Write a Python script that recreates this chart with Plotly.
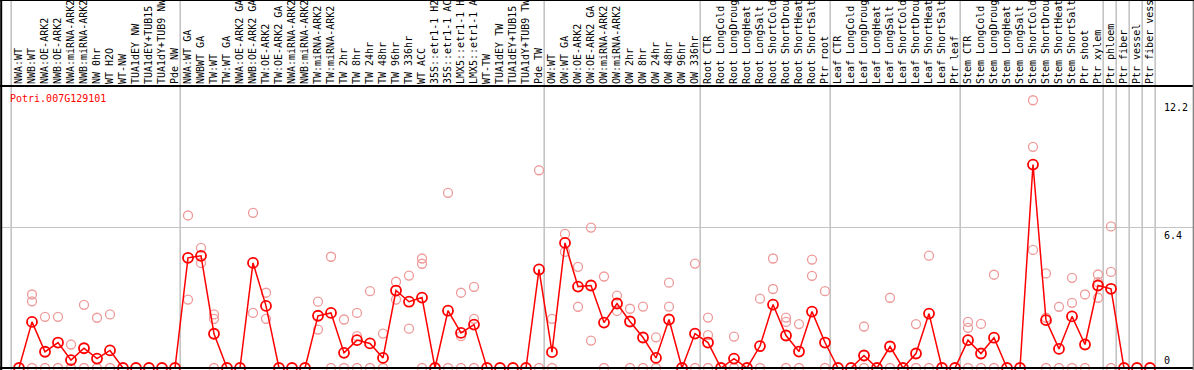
import plotly.graph_objects as go

categories = [
    "NWA:WT", "NWB:WT", "NWA:OE-ARK2", "NWB:OE-ARK2", "NWA:miRNA-ARK2", "NWB:miRNA-ARK2",
    "NW 0hr", "WT H2O", "WT-NW", "TUA1dEY NW", "TUA1dEY+TUB15 NW", "TUA1dY+TUB9 NW", "Pde NW",
    "NWA:WT GA", "NWBWT GA", "TW:WT", "TW:WT GA", "NWA:OE-ARK2 GA", "NWB:OE-ARK2 GA",
    "TW:OE-ARK2", "TW:OE-ARK2 GA", "NWA:miRNA-ARK2", "NWB:miRNA-ARK2", "TW:miRNA-ARK2",
    "TW:miRNA-ARK2", "TW 2hr", "TW 8hr", "TW 24hr", "TW 48hr", "TW 96hr", "TW 336hr", "WT ACC",
    "35S::etr1-1 H2O", "35S::etr1-1 ACC", "LMX5::etr1-1 H2O", "LMX5::etr1-1 ACC", "WT-TW",
    "TUA1dEY TW", "TUA1dEY+TUB15 TW", "TUA1dY+TUB9 TW", "Pde TW",
    "OW:WT", "OW:WT GA", "OW:OE-ARK2", "OW:OE-ARK2 GA", "OW:miRNA-ARK2", "OW:miRNA-ARK2",
    "OW 2hr", "OW 8hr", "OW 24hr", "OW 48hr", "OW 96hr", "OW 336hr",
    "Root CTR", "Root LongCold", "Root LongDrought", "Root LongHeat", "Root LongSalt",
    "Root ShortCold", "Root ShortDrought", "Root ShortHeat", "Root ShortSalt", "Ptr root",
    "Leaf CTR", "Leaf LongCold", "Leaf LongDrought", "Leaf LongHeat", "Leaf LongSalt",
    "Leaf ShortCold", "Leaf ShortDrought", "Leaf ShortHeat", "Leaf ShortSalt", "Ptr leaf",
    "Stem CTR", "Stem LongCold", "Stem LongDrought", "Stem LongHeat", "Stem LongSalt",
    "Stem ShortCold", "Stem ShortDrought", "Stem ShortHeat", "Stem ShortSalt", "Ptr shoot",
    "Ptr xylem", "Ptr phloem", "Ptr fiber", "Ptr vessel", "Ptr fiber vessel",
]

group_sizes = [13, 28, 12, 10, 10, 11, 1, 1, 1, 1]

mean_expr = [
    0, 2.10, 0.74, 1.16, 0.36, 0.90, 0.43, 0.80, 0, 0, 0, 0, 0,
    5.02, 5.11, 1.56, 0, 0, 4.79, 2.83, 0, 0, 0, 2.38, 2.51, 0.69, 1.27, 1.12, 0.46,
    3.53, 3.02, 3.21, 0, 2.61, 1.60, 1.98, 0, 0, 0, 0, 4.49,
    0.72, 5.70, 3.71, 3.76, 2.07, 2.94, 2.12, 1.39, 0.46, 2.21, 0, 1.57,
    1.16, 0, 0.43, 0, 1.00, 2.89, 1.48, 0.75, 2.57, 1.16,
    0, 0, 0.57, 0, 0.98, 0, 0.66, 2.48, 0, 0,
    1.27, 0.66, 1.38, 0, 0, 9.27, 2.18, 0.87, 2.35, 1.07, 3.76,
    3.61, 0, 0, 0,
]

rep_1 = [
    None, 3.35, 2.33, 2.33, 1.07, 2.88, 2.29, 2.44, None, None, None, None, None,
    6.95, 5.47, 2.44, None, None, 7.07, 3.43, None, None, None, 3.02, 5.07, 2.21, 2.51, 3.50, 1.57,
    3.93, 4.21, 4.99, None, 7.98, 3.43, 3.70, None, None, None, None, 9.01,
    2.24, 6.11, 4.61, 6.40, 4.17, 3.30, 2.70, 2.80, 1.40, 3.89, None, 4.76,
    2.30, None, 1.43, None, 3.16, 4.99, 2.30, 2.00, 4.94, 3.50,
    None, None, 1.89, None, 3.20, None, 2.00, 5.12, None, None,
    2.10, 2.01, 4.25, None, None, 12.20, 4.31, 2.79, 4.11, 3.35, 4.26,
    6.45, None, None, None,
]

rep_2 = [
    None, 3.04, 0, 0, 0, 0, 0, 0, None, None, None, None, None,
    3.12, 4.79, 2.24, None, None, 2.51, 2.24, None, None, None, 1.75, 0, 0, 1.45, 0, 0,
    3.12, 1.79, 4.75, None, 0, 1.45, 2.24, None, None, None, None, 0,
    0, 5.29, 2.79, 1.25, 0, 2.60, 0, 0, 0, 2.80, None, 0,
    1.50, None, 0, None, 0, 3.60, 2.10, 0, 4.20, 0,
    None, None, 0, None, 0, None, 0, 0, None, None,
    1.83, 0, 0, None, None, 10.08, 2.29, 0, 2.97, 0, 3.91,
    4.38, None, None, None,
]

rep_3 = [
    None, 0, None, None, None, None, None, None, None, None, None, None, None,
    None, None, 0, None, None, None, None, None, None, None, None, None, None, 0, None, None,
    None, None, 0, None, None, 0, 0, None, None, None, None, None,
    None, None, None, None, None, None, None, None, None, None, None, None,
    0, None, None, None, None, None, 0, None, None, None,
    None, None, None, None, None, None, None, None, None, None,
    0, None, None, None, None, 5.38, 0, None, 0, None, 3.20,
    0, None, None, None,
]

gene_name = "Potri.007G129101"
y_tick_vals = [0, 6.4, 12.2]
y_max = 12.85
label_chars = 14   # the header band only has room for this many characters

MONO = "DejaVu Sans Mono"
W, H = 1194, 370
M_TOP, M_BOT = 86, 2
STEP = 13.0          # pixels per category
FIRST_X = 19.0       # pixel centre of first category
x0 = -FIRST_X / STEP
x1 = x0 + W / STEP
plot_h = H - M_TOP - M_BOT

idx = list(range(len(categories)))
tick_text = [c[:label_chars] for c in categories]

fig = go.Figure()

rx, ry = [], []
for rep in (rep_1, rep_2, rep_3):
    for i, v in zip(idx, rep):
        if v is not None:
            rx.append(i)
            ry.append(v)

fig.add_trace(go.Scatter(
    x=rx, y=ry, mode="markers", cliponaxis=False, hoverinfo="skip",
    marker=dict(symbol="circle-open", size=9, color="#ee9a9a", line=dict(width=1.3, color="#ee9a9a")),
    showlegend=False,
))
fig.add_trace(go.Scatter(
    x=idx, y=mean_expr, mode="lines+markers", cliponaxis=False,
    line=dict(color="#ff0000", width=1.5),
    marker=dict(symbol="circle-open", size=10, color="#ff0000", line=dict(width=1.8, color="#ff0000")),
    showlegend=False,
))

shapes = []
b = -0.5
bounds = [b]
for g in group_sizes:
    b += g
    bounds.append(b)
for bx in bounds:
    shapes.append(dict(type="line", xref="x", yref="paper", x0=bx - 0.1, x1=bx - 0.1,
                       y0=-0.02, y1=1 + M_TOP / plot_h + 0.05,
                       line=dict(color="#c4c4c4", width=1.6), layer="below"))
shapes.append(dict(type="line", xref="paper", yref="paper", x0=0, x1=1, y0=1, y1=1,
                   line=dict(color="black", width=2)))
shapes.append(dict(type="line", xref="paper", yref="paper", x0=0, x1=1, y0=0, y1=0,
                   line=dict(color="black", width=2)))
shapes.append(dict(type="line", xref="paper", yref="paper", x0=0.001, x1=0.001, y0=-0.02,
                   y1=1 + M_TOP / plot_h, line=dict(color="black", width=2)))
shapes.append(dict(type="line", xref="paper", yref="paper", x0=0.9995, x1=0.9995, y0=-0.02,
                   y1=1 + M_TOP / plot_h, line=dict(color="#888888", width=1.5)))
shapes.append(dict(type="line", xref="paper", yref="paper", x0=0, x1=1,
                   y0=1 + M_TOP / plot_h, y1=1 + M_TOP / plot_h,
                   line=dict(color="black", width=2)))

annotations = [dict(
    text=gene_name, xref="paper", yref="paper", x=8 / W, y=1, xanchor="left", yanchor="top",
    yshift=-5, showarrow=False, font=dict(family=MONO, size=10, color="#ff0000"),
)]
tick_x = x0 + 1162 / STEP
for v in y_tick_vals:
    annotations.append(dict(
        text=str(v), xref="x", yref="y", x=tick_x, y=v, xanchor="left",
        yanchor="bottom" if v == min(y_tick_vals) else "top",
        showarrow=False, font=dict(family=MONO, size=10, color="black"),
    ))

fig.update_layout(
    width=W, height=H,
    margin=dict(l=0, r=0, t=M_TOP, b=M_BOT, pad=0),
    paper_bgcolor="white", plot_bgcolor="white",
    shapes=shapes, annotations=annotations,
    xaxis=dict(
        range=[x0, x1], side="top", tickmode="array", tickvals=idx, ticktext=tick_text,
        tickangle=-90, ticks="", showgrid=False, zeroline=False, showline=False,
        tickfont=dict(family=MONO, size=10, color="black"), automargin=False,
        ticklabelstandoff=1,
    ),
    yaxis=dict(
        range=[0, y_max], tickmode="array", tickvals=[y_tick_vals[1]], showticklabels=False,
        showgrid=True, gridcolor="#c4c4c4", gridwidth=1.5, zeroline=False, showline=False,
        automargin=False,
    ),
)

fig.write_html(
    "out.html",
    config={"displayModeBar": False, "staticPlot": True},
    post_script="document.body.style.margin='0';document.body.style.overflow='hidden';",
)
